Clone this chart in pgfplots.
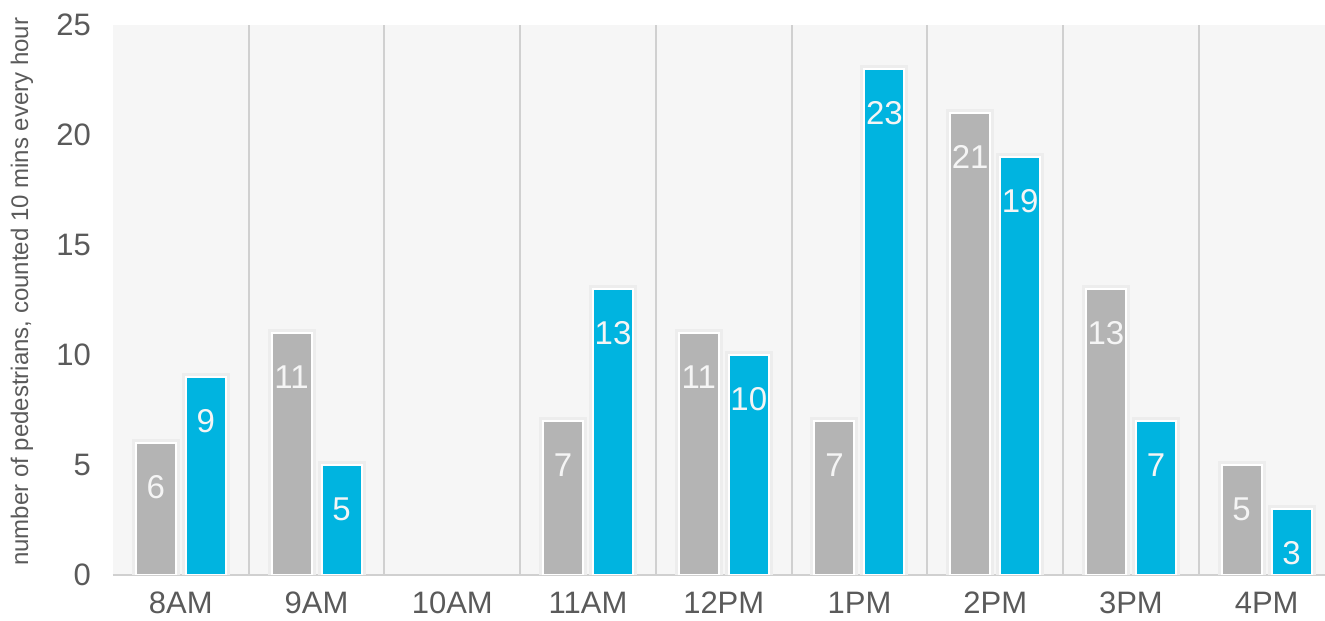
\documentclass[border=0pt]{standalone}
\usepackage{fontspec}
\setmainfont{Liberation Sans}
\usepackage{pgfplots}
\pgfplotsset{compat=1.18}
\definecolor{barGray}{RGB}{180,180,180}
\definecolor{barCyan}{RGB}{0,180,224}
\definecolor{tickText}{RGB}{90,90,90}
\definecolor{sepGray}{RGB}{208,208,208}
\definecolor{bgGray}{RGB}{246,246,246}
\begin{document}
\begin{tikzpicture}
\begin{axis}[
  name=ax,
  scale only axis, width=606pt, height=275pt,
  xmin=-0.5, xmax=8.43, ymin=0, ymax=25,
  axis x line*=bottom, axis y line*=left,
  x axis line style={draw=sepGray, line width=1pt, -},
  y axis line style={draw=none},
  axis background/.style={fill=bgGray},
  major tick length=0pt,
  xtick={0,...,8},
  xticklabels={8AM,9AM,10AM,11AM,12PM,1PM,2PM,3PM,4PM},
  ytick={0,5,...,25},
  extra x ticks={0.5,1.5,...,7.5},
  extra x tick labels={},
  extra x tick style={grid=major, major grid style={draw=sepGray, line width=1pt}},
  /pgf/number format/assume math mode=true,
  tick label style={font=\fontsize{15.5}{15.5}\selectfont, text=tickText},
  xticklabel style={yshift=-5pt},
  yticklabel style={xshift=-7.5pt},
  ylabel={number of pedestrians, counted 10 mins every hour},
  every axis y label/.style={at={(axis description cs:-0.0751,0.515)}, rotate=90, anchor=center,
    font=\fontsize{12}{12}\selectfont, text=tickText},
  ybar, bar width=20pt,
  nodes near coords,
  every node near coord/.append style={font=\fontsize{16.5}{16.5}\selectfont, text=white!96!black, anchor=center, yshift=-22pt},
]
\addplot[fill=barGray, draw=white, line width=1pt, bar shift=-12.5pt,
  preaction={draw=black!7, line width=4pt}]
  coordinates {(0,6) (1,11) (3,7) (4,11) (5,7) (6,21) (7,13) (8,5)};
\addplot[fill=barCyan, draw=white, line width=1pt, bar shift=12.5pt,
  preaction={draw=black!7, line width=4pt}]
  coordinates {(0,9) (1,5) (3,13) (4,10) (5,23) (6,19) (7,7) (8,3)};
\end{axis}
\pgfresetboundingbox
\path[use as bounding box] ([shift={(-56.5pt,-23pt)}]ax.south west) rectangle ([shift={(0pt,12.5pt)}]ax.north east);
\end{tikzpicture}
\end{document}
